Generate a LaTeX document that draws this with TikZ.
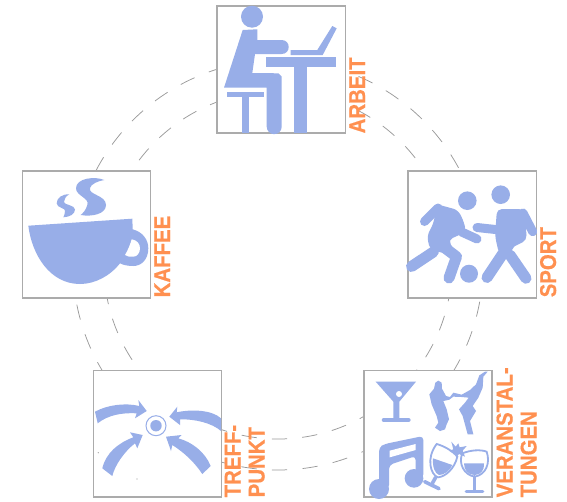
\documentclass[tikz,border=0pt]{standalone}
\usepackage{fontspec}
\setmainfont{Liberation Sans}
\newfontfamily\labfont[FakeBold=0.6]{Liberation Sans Bold}
\definecolor{icon}{HTML}{98AEE8}
\definecolor{lab}{HTML}{FF9050}
\definecolor{framecol}{HTML}{ABABAB}
\definecolor{ringcol}{HTML}{9A9A9A}
\tikzset{
  ring/.style={draw=ringcol,line width=0.75pt},
  frame/.style={draw=framecol,fill=white,line width=1.1pt},
  limb/.style={draw=icon,line cap=round,line join=round},
  lab/.style={text=lab,font=\fontsize{20.4}{20.4}\labfont,rotate=90,anchor=base west,inner sep=0pt,yscale=1.12,transform shape}
}
\begin{document}
\begin{tikzpicture}[x=1pt,y=-1pt]
\useasboundingbox (0,0) rectangle (567,501);
% rings
\draw[ring,dash pattern=on 15.3pt off 15.37pt] (278,265) ++(91.7:205) arc[start angle=91.7,end angle=-268.3,radius=205];
\draw[ring,dash pattern=on 15.2pt off 15.17pt] (278,265) ++(92:174) arc[start angle=92,end angle=-268,radius=174];
% frames
\path[frame] (217,6) rectangle (345.5,133);
\path[frame] (22.5,171) rectangle (150.5,298);
\path[frame] (408,171) rectangle (536.5,298);
\path[frame] (93.5,370.5) rectangle (221.5,497);
\path[frame] (364,370.5) rectangle (492,497);
% desk icon
\fill[icon] (252,16.7) circle (11);
\fill[icon] (242.7,30) -- (257.3,29.3) -- (257.3,40) -- (281.7,40) .. controls (291,40) and (291,54) .. (281.7,54) -- (255,54) -- (252.3,73) -- (278.3,73.3) -- (281.7,76.7) -- (281.7,126.7) arc[start angle=0,end angle=180,radius=7.5] -- (266.7,87.7) -- (224,87.7) -- cycle;
\fill[icon] (227.3,91.7) rectangle (264,97);
\fill[icon] (242.3,97) rectangle (249,133);
\fill[icon] (265.7,56.7) rectangle (336,67.3);
\fill[icon] (294.3,67.3) rectangle (307.3,133);
\fill[icon] (290.7,50) -- (317.3,50) -- (332.3,26) -- (336.7,28.3) -- (322.7,55) -- (290.7,55) -- cycle;
% cup icon
\fill[icon] (28.3,225.7) -- (132.3,218.7) -- (132.7,229.3) .. controls (143,232) and (148.3,240) .. (148.3,248.3) .. controls (148.3,260) and (141,266) .. (133.3,266) .. controls (128,266) and (123,265) .. (120,263.3) .. controls (110,276) and (95,284) .. (80,284) .. controls (50,284) and (32,255) .. (28.3,225.7) -- cycle;
\fill[white] (131.7,239.3) .. controls (137,240) and (140,244) .. (140,248.3) .. controls (140,253) and (137,256.7) .. (133.3,256.7) .. controls (130,257) and (127,256.5) .. (125,255) .. controls (128,250) and (130,245) .. (131.7,239.3) -- cycle;
\fill[icon] (104.3,180) .. controls (95,176) and (76,178) .. (76,188.3) .. controls (76,196) and (90,198) .. (87.3,205) .. controls (86,210) and (83,213) .. (80.7,215) .. controls (92,217) and (106,214) .. (106,205) .. controls (106,195) and (88,195) .. (90,188) .. controls (91,184) and (98,181) .. (104.3,180) -- cycle;
\fill[icon] (69.3,194.3) .. controls (62,194) and (56.7,198) .. (56.7,203.3) .. controls (56.7,208) and (66,208) .. (65,211) .. controls (65,214) and (64,216) .. (63.3,217.3) .. controls (70,217) and (75,214) .. (75,209.5) .. controls (75,205) and (64,205) .. (64,202) .. controls (64,199) and (66,196) .. (69.3,194.3) -- cycle;
% sport icon
\fill[icon] (467.3,200.7) circle (9.3);
\fill[icon] (500.7,194.7) circle (9.3);
\fill[icon] (469,273.7) circle (9);
\fill[icon,rounded corners=5pt] (436,204) -- (458,210) -- (464,222) -- (466,232) -- (448,240) -- (458,256) -- (430,250) -- (427,236) -- (434,222) -- cycle;
\draw[limb,line width=9pt] (438,208) -- (424.5,221.5);
\draw[limb,line width=9pt] (461.7,232) -- (477,239);
\draw[limb,line width=11pt] (433.3,252) -- (411.5,266.5);
\draw[limb,line width=11pt] (445,248) -- (456.5,256.7) -- (449,278);
\fill[icon,rounded corners=5pt] (497,209) -- (524,209) -- (527,240) -- (499,254) -- (495,236) -- cycle;
\draw[limb,line width=9pt] (477,227.5) -- (500,230);
\draw[limb,line width=9pt] (523,213) -- (532.7,231.7);
\draw[limb,line width=11pt] (512,240) -- (487,277.5);
\draw[limb,line width=11pt] (510,255) -- (526,278.3);
% meeting point icon
\fill[icon] (156,425.7) circle (5.7);
\draw[icon,line width=1pt] (156,425.7) circle (10);
\fill[icon] (95,411.7) .. controls (107,405) and (125,402.5) .. (139.3,406) -- (138.3,400) -- (146.7,411) -- (135,418.3) -- (136.7,413.3) .. controls (122,412.5) and (108,415) .. (97.7,423.3) -- cycle;
\fill[icon] (169.3,416.7) -- (177.3,406.7) -- (176.7,412.3) .. controls (192,409) and (212,410) .. (221,418.3) -- (221,431) .. controls (212,423) and (195,419) .. (180,419.3) -- (180,425) -- cycle;
\fill[icon] (142.7,435) -- (130,432.3) -- (133.3,437.3) .. controls (118,443) and (106,453) .. (102.3,468.3) -- (112.3,476) .. controls (115,465) and (124,452) .. (135,443.3) -- (137.3,448.3) -- cycle;
\fill[icon] (166,436.7) -- (181.7,435) -- (178.3,438.3) .. controls (192,442) and (205,452) .. (210.7,466) -- (202.3,474) .. controls (195,463) and (185,453) .. (172.3,445) -- (171,451) -- cycle;
\fill[ringcol] (98.3,452.7) circle (0.6);
\fill[ringcol] (137,479) circle (0.6);
% events icon
\begin{scope}[shift={(355,360)},scale=1/3]
\fill[icon] (62,65) -- (183,65) -- (133,125) -- (133,175) -- (115,175) -- (115,125) -- cycle;
\fill[white] (132,102) circle (9);
\draw[limb,line width=4.6pt] (87,180) -- (160,180);
\end{scope}
\begin{scope}[shift={(420,366)},scale=1/3]
\fill[icon] (28,85) -- (42,68) -- (46,50) -- (55,44) -- (65,50) -- (66,68) -- (78,90) -- (90,93) -- (100,80) -- (125,86) -- (150,72) -- (168,55) -- (178,28) -- (195,17) -- (203,17) -- (190,32) -- (188,65) -- (175,95) -- (158,120) -- (168,135) -- (150,165) -- (160,205) -- (143,205) -- (128,150) -- (117,130) -- (135,110) -- (146,95) -- (125,93) -- (100,92) -- (88,101) -- (70,105) -- (80,130) -- (87,160) -- (80,175) -- (75,190) -- (60,195) -- (45,185) -- (55,170) -- (50,150) -- (35,115) -- cycle;
\end{scope}
\begin{scope}[shift={(364,430)},scale=1/3]
\fill[icon] (45,177) circle (30);
\fill[icon] (150,145) circle (28);
\fill[icon,rounded corners=4pt] (45,177) -- (45,52) -- (62,42) -- (178,18) -- (178,145) -- (155,145) -- (155,78) -- (75,105) -- (75,177) -- cycle;
\fill[white] (77,62) -- (155,42) -- (155,60) -- (77,82) -- cycle;
% clinking glasses
\draw[icon,line width=1.8pt,fill=white] (218,42) .. controls (240,48) and (265,62) .. (280,80) .. controls (272,115) and (245,140) .. (222,142) .. controls (200,135) and (185,85) .. (218,42) -- cycle;
\fill[icon] (207,85) -- (265,105) .. controls (258,122) and (240,135) .. (225,135) .. controls (212,130) and (205,110) .. (207,85) -- cycle;
\draw[limb,line width=3.6pt] (215,142) -- (205,160);
\draw[limb,line width=3.6pt] (182,155) -- (225,176);
\draw[icon,line width=1.8pt,fill=white] (295,70) .. controls (320,60) and (350,58) .. (368,65) .. controls (380,100) and (365,135) .. (332,140) .. controls (300,135) and (282,100) .. (295,70) -- cycle;
\fill[icon] (300,100) -- (360,100) .. controls (362,120) and (350,135) .. (332,135) .. controls (312,135) and (300,120) .. (300,100) -- cycle;
\draw[limb,line width=3.6pt] (331,140) -- (331,182);
\draw[limb,line width=3.6pt] (307,184) -- (356,184);
\fill[icon] (262,35) -- (275,50) -- (283,40) -- (287,52) -- (308,48) -- (296,62) -- (303,80) -- (285,72) -- (280,78) -- (268,70) -- (255,62) -- (268,58) -- cycle;
\end{scope}
% labels
\node[lab] (arbeit) at (365,133.5) {ARBEIT};
\node[lab] (kaffee) at (170,297.5) {KAFFEE};
\node[lab] (sport) at (556,297.5) {SPORT};
\node[lab] (treff) at (240.5,497.5) {TREFF-};
\node[lab] (punkt) at (264.5,497.5) {PUNKT};
\node[lab] (veranstal) at (512.5,497.5) {VERANSTAL-};
\node[lab] (tungen) at (536.5,497.5) {TUNGEN};
\end{tikzpicture}
\end{document}
